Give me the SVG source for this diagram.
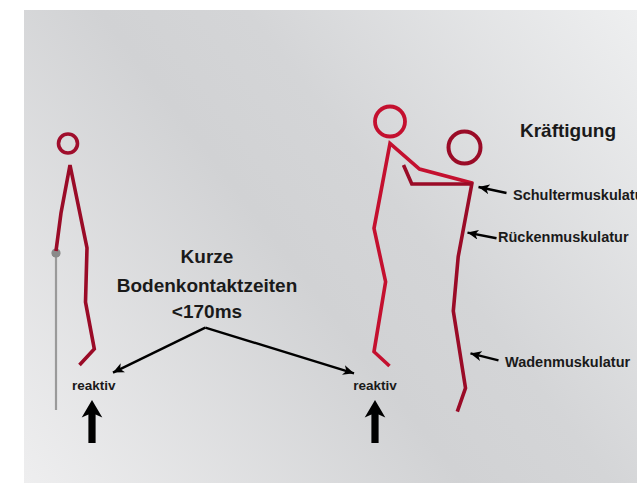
<svg xmlns="http://www.w3.org/2000/svg" width="637" height="483" viewBox="0 0 637 483">
  <defs>
    <linearGradient id="bg" gradientUnits="userSpaceOnUse" x1="24" y1="483" x2="637" y2="10">
      <stop offset="0" stop-color="#eeeeef"/>
      <stop offset="0.45" stop-color="#d1d2d4"/>
      <stop offset="0.6" stop-color="#d4d5d7"/>
      <stop offset="1" stop-color="#eeeff0"/>
    </linearGradient>
    <marker id="tip" markerUnits="userSpaceOnUse" markerWidth="12" markerHeight="10" refX="11" refY="5" orient="auto">
      <path d="M0,0 L11,5 L0,10 L3,5 z" fill="#000"/>
    </marker>
    <style>
      .fig { fill: none; stroke-width: 3.6; stroke-linejoin: miter; stroke-linecap: butt; }
      .front { stroke: #c4102f; }
      .back { stroke: #9a0b27; }
      .lead { fill: none; stroke: #000; stroke-width: 2.4; marker-end: url(#tip); }
      .lbl { font-family: "Liberation Sans", Arial, sans-serif; font-weight: bold; fill: #1a1a1a; }
      .big { font-size: 19px; }
      .mid { font-size: 14.5px; }
      .small { font-size: 13.5px; }
    </style>
  </defs>

  <!-- page and shaded panel -->
  <rect x="0" y="0" width="637" height="483" fill="#ffffff"/>
  <rect x="24" y="10" width="613" height="473" fill="url(#bg)"/>

  <!-- standing figure with pole -->
  <g id="figure-standing">
    <line x1="56" y1="253" x2="56" y2="410" stroke="#9a9a9a" stroke-width="2.2"/>
    <circle cx="56" cy="253" r="4.6" fill="#8a8a8a"/>
    <circle cx="68" cy="143.5" r="9.5" fill="none" stroke="#a00e2c" stroke-width="3.6"/>
    <polyline class="fig back" points="56,251 61,213 70,165 87,248 85.5,302 94.3,349 79.5,365"/>
  </g>

  <!-- two figures: front figure and back figure -->
  <g id="figure-front">
    <circle cx="390" cy="121.5" r="15" fill="none" stroke="#c4102f" stroke-width="3.8"/>
    <polyline class="fig front" points="389.5,366 374,351.7 385.6,281.7 374,228.3 390,143.5 419.5,169 473,183.3"/>
  </g>
  <g id="figure-back">
    <circle cx="464.5" cy="147.5" r="16" fill="none" stroke="#9a0b27" stroke-width="4"/>
    <polyline class="fig back" points="403.5,165 411.8,184 471.8,184 458.2,256.7 453.3,311 465.5,388 457.3,411.7"/>
  </g>

  <!-- leader lines -->
  <g id="connectors">
    <line class="lead" x1="205.3" y1="327.6" x2="113" y2="372.6"/>
    <line class="lead" x1="205.3" y1="327.6" x2="354" y2="373.3"/>
    <line class="lead" x1="506.5" y1="193" x2="478.5" y2="187"/>
    <line class="lead" x1="496.5" y1="238.3" x2="467.5" y2="232.6"/>
    <line class="lead" x1="498.5" y1="360.3" x2="470.5" y2="353.4"/>
  </g>

  <!-- ground reaction arrows -->
  <g id="push-left">
    <polygon points="92,400 102.3,417.5 95.6,414.5 95.6,443 88.4,443 88.4,414.5 81.7,417.5" fill="#000"/>
  </g>
  <g id="push-right">
    <polygon points="375,400 385.3,417.5 378.6,414.5 378.6,443 371.4,443 371.4,414.5 364.7,417.5" fill="#000"/>
  </g>

  <!-- labels -->
  <g id="label-contact">
    <text class="lbl big" x="207" y="263" text-anchor="middle">Kurze</text>
    <text class="lbl big" x="207" y="291.7" text-anchor="middle">Bodenkontaktzeiten</text>
    <text class="lbl big" x="207" y="318" text-anchor="middle">&lt;170ms</text>
  </g>
  <g id="label-reaktiv-left">
    <text class="lbl small" x="93.7" y="390" text-anchor="middle">reaktiv</text>
  </g>
  <g id="label-reaktiv-right">
    <text class="lbl small" x="375" y="389.5" text-anchor="middle">reaktiv</text>
  </g>
  <g id="label-kraeftigung">
    <text class="lbl big" x="520" y="136.7">Kräftigung</text>
  </g>
  <g id="label-schulter">
    <text class="lbl mid" x="513" y="200">Schultermuskulatur</text>
  </g>
  <g id="label-ruecken">
    <text class="lbl mid" x="498" y="241.7">Rückenmuskulatur</text>
  </g>
  <g id="label-waden">
    <text class="lbl mid" x="505" y="366.7">Wadenmuskulatur</text>
  </g>
</svg>
